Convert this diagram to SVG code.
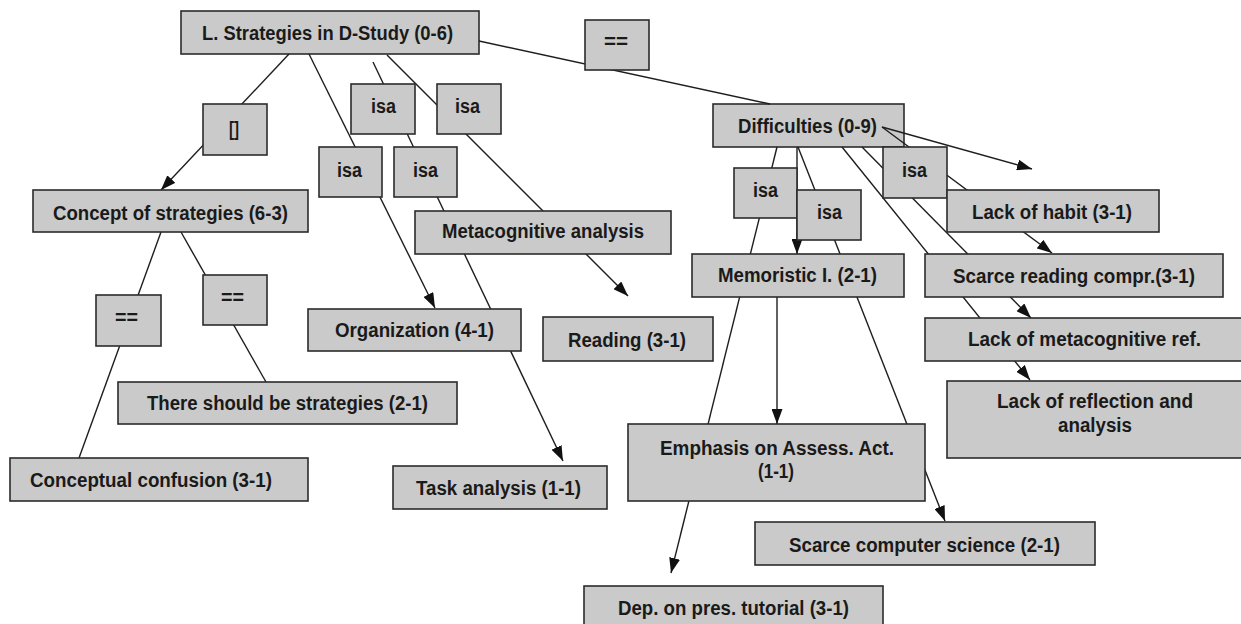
<svg xmlns="http://www.w3.org/2000/svg" width="1241" height="624" viewBox="0 0 1241 624">
<style>
.n rect{fill:#cacaca;stroke:#2b2b2b;stroke-width:1.6}
.n text{font-family:"Liberation Sans",Arial,sans-serif;font-weight:bold;font-size:20px;fill:#1a1a1a}
#connectors line{stroke:#1e1e1e;stroke-width:1.4;fill:none}
.a{marker-end:url(#arr)}
</style>
<defs>
<marker id="arr" viewBox="0 0 15 11" refX="15" refY="5.5" markerWidth="15" markerHeight="11" markerUnits="userSpaceOnUse" orient="auto"><path d="M0,0 L15,5.5 L0,11 z" fill="#111"/></marker>
</defs>
<rect width="1241" height="624" fill="#fff"/>

<g id="n-strategies" class="n"><rect x="181" y="11" width="298" height="43"/><text x="202" y="40" textLength="251" lengthAdjust="spacingAndGlyphs">L. Strategies in D-Study (0-6)</text></g>
<g id="n-difficulties" class="n"><rect x="713" y="104" width="191" height="43"/><text x="738" y="133" textLength="139" lengthAdjust="spacingAndGlyphs">Difficulties (0-9)</text></g>

<g id="connectors">
<line class="a" x1="289" y1="54" x2="161" y2="190"/>
<line class="a" x1="309" y1="54" x2="435" y2="308"/>
<line class="a" x1="373" y1="62" x2="563" y2="461"/>
<line class="a" x1="387" y1="55" x2="628" y2="296"/>
<line x1="479" y1="41" x2="770" y2="104"/>
<line x1="161" y1="232" x2="79" y2="458"/>
<line x1="181" y1="232" x2="266" y2="382"/>
<line class="a" x1="777" y1="147" x2="671" y2="573"/>
<line class="a" x1="798" y1="147" x2="945" y2="521"/>
<line class="a" x1="797" y1="147" x2="797" y2="254"/>
<line class="a" x1="777" y1="297" x2="777" y2="424"/>
<line class="a" x1="882" y1="127" x2="1032" y2="169"/>
<line class="a" x1="882" y1="127" x2="1052" y2="253"/>
<line class="a" x1="842" y1="147" x2="1030" y2="380"/>
<line class="a" x1="862" y1="147" x2="1031" y2="318"/>
</g>

<g id="l-eq-top" class="n"><rect x="585" y="20" width="64" height="50"/><text x="604" y="47.5" textLength="24" lengthAdjust="spacingAndGlyphs">==</text></g>
<g id="l-bracket" class="n"><rect x="203" y="104" width="64" height="51"/><text x="229" y="136" textLength="10" lengthAdjust="spacingAndGlyphs">[]</text></g>
<g id="l-isa-a" class="n"><rect x="351" y="84" width="64" height="50"/><text x="371" y="113" textLength="25" lengthAdjust="spacingAndGlyphs">isa</text></g>
<g id="l-isa-b" class="n"><rect x="437" y="84" width="64" height="50"/><text x="455" y="113" textLength="25" lengthAdjust="spacingAndGlyphs">isa</text></g>
<g id="l-isa-c" class="n"><rect x="319" y="147" width="63" height="50"/><text x="337" y="177" textLength="25" lengthAdjust="spacingAndGlyphs">isa</text></g>
<g id="l-isa-d" class="n"><rect x="394" y="147" width="63" height="50"/><text x="413" y="177" textLength="25" lengthAdjust="spacingAndGlyphs">isa</text></g>

<g id="n-concept" class="n"><rect x="33" y="190" width="275" height="42"/><text x="53" y="220" textLength="235" lengthAdjust="spacingAndGlyphs">Concept of strategies (6-3)</text></g>
<g id="n-metacog" class="n"><rect x="415" y="211" width="256" height="43"/><text x="442" y="238" textLength="202" lengthAdjust="spacingAndGlyphs">Metacognitive analysis</text></g>
<g id="l-eq-1" class="n"><rect x="96" y="295" width="65" height="51"/><text x="115" y="323.5" textLength="23" lengthAdjust="spacingAndGlyphs">==</text></g>
<g id="l-eq-2" class="n"><rect x="203" y="275" width="64" height="50"/><text x="221" y="303.5" textLength="23" lengthAdjust="spacingAndGlyphs">==</text></g>
<g id="n-organization" class="n"><rect x="308" y="309" width="213" height="42"/><text x="335" y="337" textLength="159" lengthAdjust="spacingAndGlyphs">Organization (4-1)</text></g>
<g id="n-reading" class="n"><rect x="543" y="317" width="170" height="44"/><text x="568" y="347" textLength="118" lengthAdjust="spacingAndGlyphs">Reading (3-1)</text></g>
<g id="n-should" class="n"><rect x="118" y="382" width="339" height="42"/><text x="147" y="410" textLength="281" lengthAdjust="spacingAndGlyphs">There should be strategies (2-1)</text></g>
<g id="n-confusion" class="n"><rect x="10" y="458" width="298" height="43"/><text x="30" y="487" textLength="242" lengthAdjust="spacingAndGlyphs">Conceptual confusion (3-1)</text></g>
<g id="n-task" class="n"><rect x="393" y="466" width="214" height="43"/><text x="416" y="495" textLength="165" lengthAdjust="spacingAndGlyphs">Task analysis (1-1)</text></g>

<g id="l-isa-e" class="n"><rect x="734" y="168" width="63" height="50"/><text x="753" y="197" textLength="25" lengthAdjust="spacingAndGlyphs">isa</text></g>
<g id="l-isa-f" class="n"><rect x="797" y="190" width="64" height="50"/><text x="817" y="219" textLength="25" lengthAdjust="spacingAndGlyphs">isa</text></g>
<g id="l-isa-g" class="n"><rect x="883" y="147" width="64" height="51"/><text x="902" y="177" textLength="25" lengthAdjust="spacingAndGlyphs">isa</text></g>
<g id="n-habit" class="n"><rect x="947" y="190" width="212" height="42"/><text x="972" y="219" textLength="160" lengthAdjust="spacingAndGlyphs">Lack of habit (3-1)</text></g>
<g id="n-memoristic" class="n"><rect x="692" y="254" width="212" height="43"/><text x="718" y="282" textLength="159" lengthAdjust="spacingAndGlyphs">Memoristic I. (2-1)</text></g>
<g id="n-scarce-reading" class="n"><rect x="925" y="254" width="298" height="43"/><text x="953" y="283" textLength="242" lengthAdjust="spacingAndGlyphs">Scarce reading compr.(3-1)</text></g>
<g id="n-metacog-ref" class="n"><rect x="925" y="318" width="320" height="43"/><text x="968" y="346" textLength="233" lengthAdjust="spacingAndGlyphs">Lack of metacognitive ref.</text></g>
<g id="n-reflection" class="n"><rect x="947" y="381" width="298" height="77"/><text x="997" y="408" textLength="196" lengthAdjust="spacingAndGlyphs">Lack of reflection and</text><text x="1058" y="432" textLength="74" lengthAdjust="spacingAndGlyphs">analysis</text></g>
<g id="n-emphasis" class="n"><rect x="628" y="424" width="297" height="77"/><text x="660" y="455" textLength="234" lengthAdjust="spacingAndGlyphs">Emphasis on Assess. Act.</text><text x="758" y="478" textLength="36" lengthAdjust="spacingAndGlyphs">(1-1)</text></g>
<g id="n-computer" class="n"><rect x="755" y="522" width="340" height="43"/><text x="789" y="552" textLength="271" lengthAdjust="spacingAndGlyphs">Scarce computer science (2-1)</text></g>
<g id="n-tutorial" class="n"><rect x="584" y="586" width="299" height="44"/><text x="618" y="615" textLength="231" lengthAdjust="spacingAndGlyphs">Dep. on pres. tutorial (3-1)</text></g>
</svg>
